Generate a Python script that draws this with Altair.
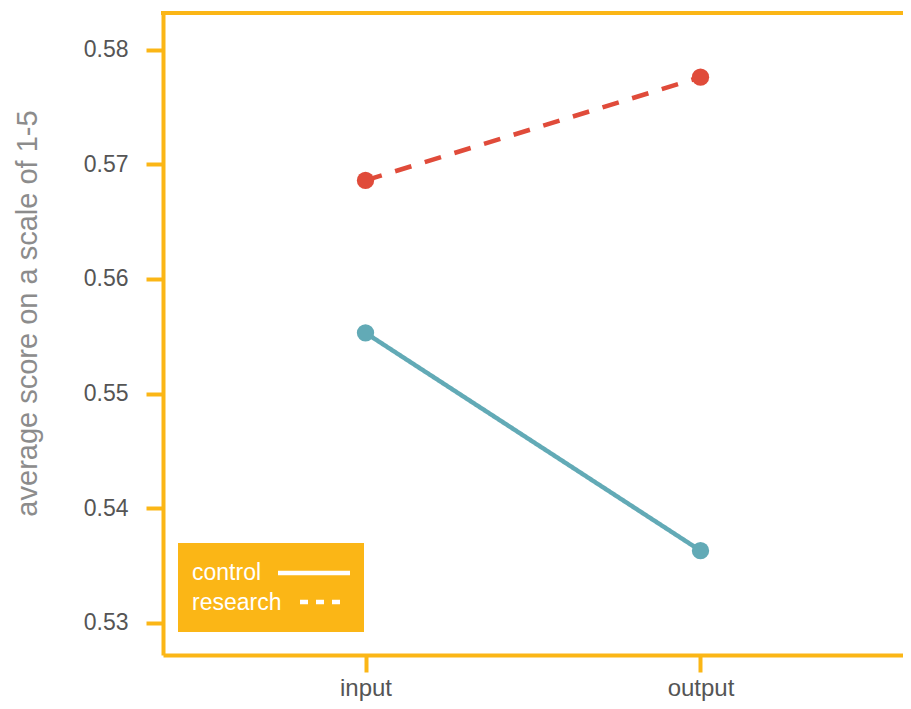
import altair as alt
import pandas as pd

stages = ["input", "output"]
groups = ["control", "research"]
control_scores = [0.5553, 0.5363]
research_scores = [0.5686, 0.5776]
y_ticks = [0.53, 0.54, 0.55, 0.56, 0.57, 0.58]

ORANGE = "#FBB616"
TEAL = "#62AAB6"
RED = "#E04B3A"
FONT = "Liberation Sans"

rows = []
for g, vals in zip(groups, [control_scores, research_scores]):
    for s, v in zip(stages, vals):
        rows.append({"stage": s, "group": g, "score": v})
df = pd.DataFrame(rows)

W, H = 740, 642

x_enc = alt.X(
    "stage:N",
    sort=stages,
    scale=alt.Scale(type="point", domain=stages, padding=0.6045),
    axis=alt.Axis(
        title=None, labelAngle=0, domainColor=ORANGE, domainWidth=4,
        tickColor=ORANGE, tickWidth=4, tickSize=17, labelPadding=4,
        labelFont=FONT, labelFontSize=24, labelColor="#555555",
    ),
)
y_enc = alt.Y(
    "score:Q",
    scale=alt.Scale(domain=[0.5272, 0.5832], nice=False, zero=False),
    axis=alt.Axis(
        title="average score on a scale of 1-5", values=y_ticks, format=".2f",
        grid=False, domainColor=ORANGE, domainWidth=4, tickColor=ORANGE,
        tickWidth=4, tickSize=17, labelPadding=18, labelFont=FONT,
        labelFontSize=23, labelColor="#555555", titleFont=FONT,
        titleFontSize=29, titleFontWeight="normal", titleColor="#8c8c8c",
        titlePadding=41, titleY=300,
    ),
)
color_enc = alt.Color(
    "group:N", scale=alt.Scale(domain=groups, range=[TEAL, RED]), legend=None
)
dash_enc = alt.StrokeDash(
    "group:N", scale=alt.Scale(domain=groups, range=[[1, 0], [17, 14]]), legend=None
)

base = alt.Chart(df)
lines = base.mark_line(strokeWidth=4.5).encode(
    x=x_enc, y=y_enc, color=color_enc, strokeDash=dash_enc, detail="group:N"
)
points = base.mark_point(filled=True, size=300, opacity=1).encode(
    x=x_enc, y=y_enc, color=color_enc
)

top_line = alt.Chart(alt.Data(values=[{"a": 1}])).mark_rule(
    color=ORANGE, strokeWidth=4
).encode(x=alt.value(-2), x2=alt.value(W), y=alt.value(0))

legend_box = alt.Chart(alt.Data(values=[{"a": 1}])).mark_rect(
    color=ORANGE
).encode(x=alt.value(15), x2=alt.value(201), y=alt.value(530), y2=alt.value(619))

legend_t1 = alt.Chart(alt.Data(values=[{"label": groups[0]}])).mark_text(
    align="left", baseline="alphabetic", font=FONT, fontSize=23, color="white"
).encode(x=alt.value(29), y=alt.value(567), text="label:N")
legend_t2 = alt.Chart(alt.Data(values=[{"label": groups[1]}])).mark_text(
    align="left", baseline="alphabetic", font=FONT, fontSize=23, color="white"
).encode(x=alt.value(29), y=alt.value(597), text="label:N")

legend_l1 = alt.Chart(alt.Data(values=[{"a": 1}])).mark_rule(
    color="white", strokeWidth=4.5
).encode(x=alt.value(115), x2=alt.value(187), y=alt.value(560))
legend_l2 = alt.Chart(alt.Data(values=[{"a": 1}])).mark_rule(
    color="white", strokeWidth=4.5, strokeDash=[8, 8]
).encode(x=alt.value(137), x2=alt.value(177), y=alt.value(589))

chart = (
    alt.layer(lines, points, top_line, legend_box, legend_t1, legend_t2, legend_l1, legend_l2)
    .properties(
        width=W, height=H,
        padding={"left": 155, "top": 5, "right": 0, "bottom": 46},
        autosize=alt.AutoSizeParams(type="none"),
    )
    .configure_view(stroke=None)
)

chart.save("out.html", embed_options={"renderer": "svg", "actions": False})
